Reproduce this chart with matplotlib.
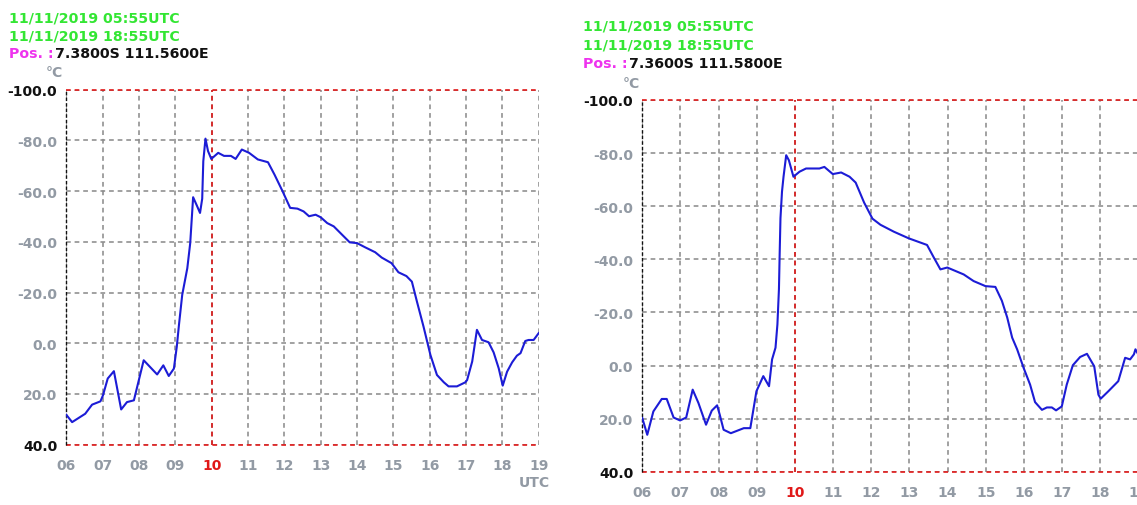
import numpy as np
import matplotlib.pyplot as plt

# cloud-top temperature traces for two nearby points, 06-19 UTC
left_hours = [6.0, 6.16, 6.52, 6.71, 6.94, 7.01, 7.14, 7.31, 7.51, 7.67, 7.86, 8.13, 8.5, 8.67,
              8.82, 8.96, 9.04, 9.1, 9.19, 9.33, 9.41, 9.49, 9.59, 9.68, 9.74, 9.77, 9.83, 9.9,
              9.99, 10.18, 10.34, 10.53, 10.66, 10.83, 11.03, 11.27, 11.55, 11.73, 11.95, 12.16,
              12.36, 12.53, 12.68, 12.86, 13.0, 13.18, 13.36, 13.59, 13.8, 14.0, 14.23, 14.5,
              14.68, 14.95, 15.14, 15.36, 15.51, 15.65, 15.83, 16.02, 16.2, 16.39, 16.52, 16.75,
              16.98, 17.03, 17.17, 17.3, 17.44, 17.62, 17.76, 17.9, 18.01, 18.13, 18.27, 18.4,
              18.5, 18.63, 18.72, 18.86, 19.0]
left_temp = [28.2, 31.1, 27.8, 24.2, 22.9, 20.5, 13.9, 11.0, 26.1, 23.2, 22.5, 6.7, 12.3, 8.7,
             12.9, 10.0, 1.4, -7.2, -19.1, -29.6, -39.5, -57.6, -54.4, -51.4, -57.0, -71.8, -80.7,
             -75.8, -72.7, -75.1, -73.9, -73.9, -72.7, -76.4, -75.1, -72.5, -71.4, -66.5, -60.0,
             -53.4, -53.1, -52.0, -50.1, -50.7, -49.7, -47.4, -46.1, -42.8, -39.8, -39.5, -37.8,
             -35.9, -33.8, -31.6, -28.0, -26.5, -24.3, -16.4, -6.6, 4.6, 12.5, 15.4, 17.0, 17.0,
             15.4, 14.5, 7.2, -5.3, -1.3, -0.4, 3.6, 9.9, 16.7, 11.2, 7.5, 4.9, 3.9, -0.9, -1.3,
             -1.3, -4.0]

right_hours = [6.0, 6.13, 6.29, 6.51, 6.64, 6.82, 6.99, 7.15, 7.32, 7.47, 7.67, 7.82, 7.96, 8.03,
               8.13, 8.32, 8.66, 8.83, 8.99, 9.17, 9.32, 9.4, 9.49, 9.54, 9.58, 9.6, 9.62, 9.66,
               9.7, 9.77, 9.84, 9.96, 10.12, 10.29, 10.64, 10.77, 10.99, 11.21, 11.43, 11.59,
               11.81, 12.03, 12.24, 12.59, 12.98, 13.46, 13.64, 13.81, 13.99, 14.42, 14.68, 14.99,
               15.25, 15.42, 15.56, 15.69, 15.82, 15.99, 16.16, 16.29, 16.47, 16.6, 16.73, 16.84,
               16.99, 17.12, 17.28, 17.47, 17.65, 17.84, 17.95, 18.01, 18.21, 18.47, 18.65, 18.78,
               18.88, 18.92, 19.0]
right_temp = [19.8, 26.1, 17.3, 12.6, 12.6, 19.6, 20.7, 19.6, 9.1, 14.1, 22.3, 17.0, 15.0, 18.6,
              24.2, 25.5, 23.6, 23.6, 9.7, 4.0, 7.8, -2.3, -6.7, -15.5, -28.8, -42.8, -55.5, -65.5,
              -71.1, -79.2, -77.3, -71.1, -73.0, -74.2, -74.2, -74.8, -72.1, -72.7, -71.1, -68.9,
              -61.4, -55.3, -53.0, -50.4, -47.9, -45.4, -40.6, -36.2, -36.9, -34.3, -31.8, -29.9,
              -29.6, -24.4, -18.1, -10.5, -6.1, 0.9, 7.2, 13.8, 16.7, 15.8, 15.8, 16.9, 15.4, 7.2,
              -0.1, -3.2, -4.4, 0.3, 11.0, 12.5, 9.7, 5.9, -2.9, -2.3, -4.2, -6.1, -4.0]

hour_ticks = list(range(6, 20))
temp_ticks = [-100, -80, -60, -40, -20, 0, 20, 40]

left_header = ["11/11/2019 05:55UTC", "11/11/2019 18:55UTC", "7.3800S 111.5600E"]
right_header = ["11/11/2019 05:55UTC", "11/11/2019 18:55UTC", "7.3600S 111.5800E"]

plt.rcParams['font.family'] = ['DejaVu Sans']
plt.rcParams['lines.scale_dashes'] = False

W, H = 1137, 506
fig = plt.figure(figsize=(W / 100, H / 100), dpi=100)
fig.patch.set_facecolor('white')

FS_HEAD = 10.2
FS_TICK = 10
GREEN = '#33e633'
MAGENTA = '#ee33ee'
LABEL = '#929aa4'
GRID = '#8c8c8c'
RED = '#e01818'
DASH = (0, (3.4, 2.8))


def fx(x):
    return x / W


def fy(y):
    return 1 - y / H


def header(x, y0, step, lines, unit_xy):
    for i in range(2):
        fig.text(fx(x), fy(y0 + i * step), lines[i], color=GREEN, fontsize=FS_HEAD,
                 fontweight='bold', va='baseline')
    pos = fig.text(fx(x), fy(y0 + 2 * step), "Pos. :", color=MAGENTA, fontsize=FS_HEAD,
                   fontweight='bold', va='baseline')
    # coordinates continue right after the magenta prefix
    fig.add_artist(plt.Annotation(lines[2], xy=(1, 0), xycoords=pos, xytext=(1, 0),
                                  textcoords='offset points', color='#111111',
                                  fontsize=FS_HEAD, fontweight='bold', va='bottom', ha='left'))
    fig.text(fx(unit_xy[0]), fy(unit_xy[1]), "°C", color=LABEL, fontsize=FS_TICK,
             fontweight='bold', va='baseline', ha='center')


def panel(rect, hours, temps, utc_label):
    ax = fig.add_axes(rect)
    ax.set_xlim(6, 19)
    ax.set_ylim(40, -100)
    for s in ax.spines.values():
        s.set_visible(False)

    ax.set_xticks(hour_ticks)
    ax.set_xticklabels([f"{h:02d}" for h in hour_ticks])
    ax.set_yticks(temp_ticks)
    ax.set_yticklabels([f"{t:.1f}" for t in temp_ticks])
    ax.tick_params(length=0, labelsize=FS_TICK, colors=LABEL)
    ax.tick_params(axis='y', pad=6.5)
    ax.tick_params(axis='x', pad=9.5)
    for lab in ax.get_xticklabels() + ax.get_yticklabels():
        lab.set_fontweight('bold')
    for lab in ax.get_xticklabels():
        if lab.get_text() == '10':
            lab.set_color(RED)
    ylabs = ax.get_yticklabels()
    ylabs[0].set_color('#111111')
    ylabs[-1].set_color('#111111')

    ax.grid(True, color=GRID, linestyle=DASH, linewidth=1.15)
    ax.axhline(-100, color=RED, linestyle=DASH, linewidth=1.2, clip_on=False, zorder=3)
    ax.axhline(40, color=RED, linestyle=DASH, linewidth=1.2, clip_on=False, zorder=3)
    ax.axvline(10, color=RED, linestyle=DASH, linewidth=1.2, zorder=3)
    ax.axvline(6, color='#111111', linestyle=(0, (2.5, 1.5)), linewidth=1.0, clip_on=False,
               zorder=3)

    ax.plot(hours, temps, color='#1c1cd6', linewidth=1.5, zorder=4)

    if utc_label:
        ax.text(18.88, -0.105, "UTC", transform=ax.get_xaxis_transform(), color=LABEL,
                fontsize=FS_TICK, fontweight='bold', ha='center', va='center')
    return ax


panel([fx(66.3), fy(445.7), 472.4 / W, 355 / H], left_hours, left_temp, True)
panel([fx(642.3), fy(472.7), 496.2 / W, 371.7 / H], right_hours, right_temp, False)

header(9.3, 22.3, 17.8, left_header, (54, 76.7))
header(583.3, 30.7, 18.8, right_header, (631.5, 88))

fig.savefig('out.png', dpi=100, facecolor='white')
